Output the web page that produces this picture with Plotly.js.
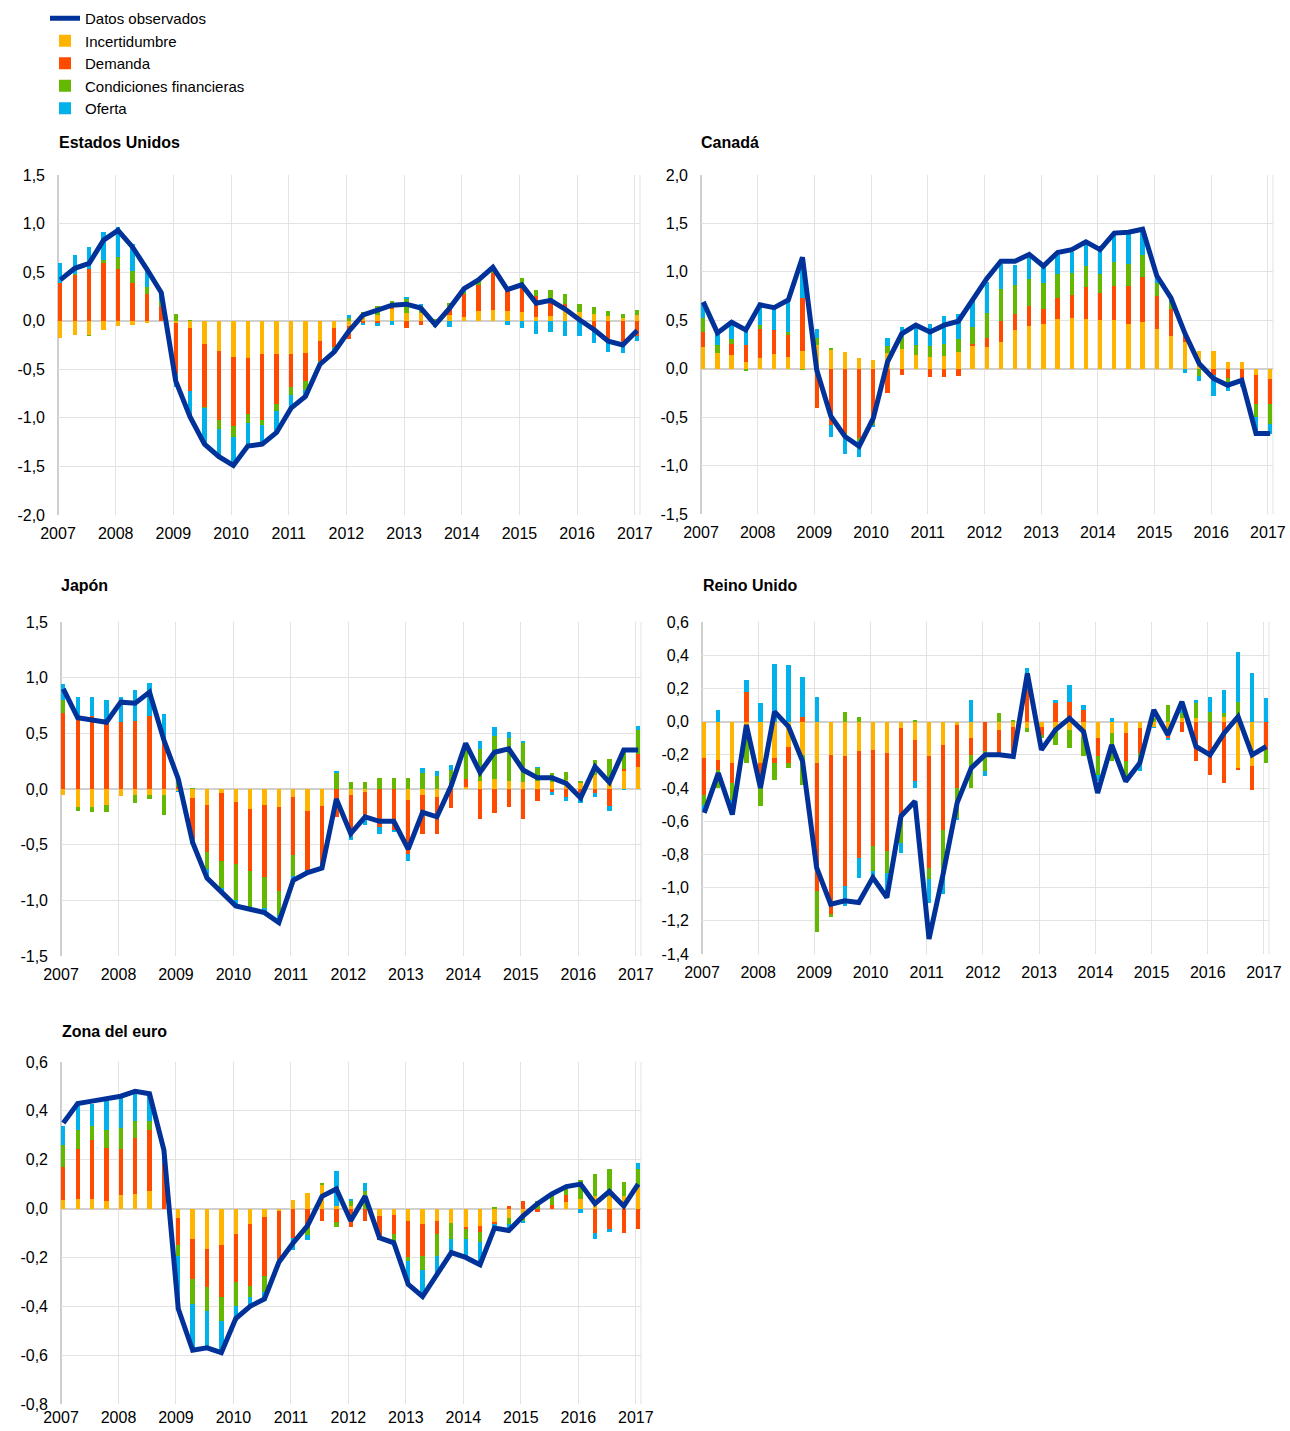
<!DOCTYPE html>
<html><head><meta charset="utf-8">
<script src="https://cdn.plot.ly/plotly-3.0.1.min.js"></script>
<style>html,body{margin:0;padding:0;background:#fff}#chart{width:1290px;height:1431px}</style>
</head><body><div id="chart"></div>
<script>
// ---------- DATA (quarterly, 2007T1 .. 2017T1) ----------
const startYear = 2007;
const yearTicks = [2007,2008,2009,2010,2011,2012,2013,2014,2015,2016,2017];
const yearLabels = ['2007','2008','2009','2010','2011','2012','2013','2014','2015','2016','2017'];
const seriesNames = ['Datos observados','Incertidumbre','Demanda','Condiciones financieras','Oferta'];
const panelTitles = ['Estados Unidos','Canadá','Japón','Reino Unido','Zona del euro'];

// Estados Unidos
const us_inc = [-0.18,-0.15,-0.15,-0.10,-0.05,-0.04,-0.02,0,-0.02,-0.08,-0.24,-0.31,-0.37,-0.38,-0.34,-0.34,-0.34,-0.33,-0.21,-0.08,-0.05,0.04,0.06,0.12,0.08,0.08,0,0.06,0.04,0.10,0.11,0.10,0.09,0.04,0.05,0.10,0.09,0.07,0.05,0.03,0.06];
const us_dem = [0.39,0.47,0.53,0.59,0.53,0.39,0.27,0.15,-0.53,-0.64,-0.65,-0.71,-0.71,-0.58,-0.68,-0.52,-0.34,-0.29,-0.20,-0.19,-0.14,-0.02,-0.02,0.02,-0.08,-0.04,0,0.06,0.23,0.27,0.38,0.22,0.25,0.21,0.17,0.07,0,-0.07,-0.23,-0.26,-0.16];
const us_fin = [0,0.01,-0.01,0.04,0.13,0.12,0.08,0.05,0.07,0.01,-0.01,-0.09,-0.12,-0.09,-0.05,-0.07,-0.08,-0.09,-0.02,-0.01,0.03,0.05,0.09,0.06,0.14,0.07,0.02,0.06,0.03,0.04,0.03,0.02,0.10,0.07,0.10,0.10,0.08,0.07,0.05,0.04,0.05];
const us_ofe = [0.20,0.20,0.23,0.28,0.30,0.28,0.18,0.08,-0.13,-0.27,-0.36,-0.29,-0.29,-0.24,-0.19,-0.21,-0.14,-0.08,-0.02,-0.03,0.03,-0.02,-0.03,-0.04,0.02,0.02,-0.06,-0.06,0.03,0,0,-0.04,-0.07,-0.14,-0.12,-0.16,-0.16,-0.16,-0.09,-0.07,-0.05];
const us_obs = [0.42,0.54,0.59,0.83,0.93,0.76,0.53,0.29,-0.62,-0.99,-1.27,-1.40,-1.49,-1.29,-1.27,-1.15,-0.90,-0.78,-0.45,-0.32,-0.11,0.06,0.11,0.16,0.17,0.13,-0.04,0.13,0.33,0.42,0.55,0.32,0.37,0.18,0.21,0.12,0.01,-0.09,-0.21,-0.25,-0.10];

// Canadá
const ca_inc = [0.22,0.16,0.14,0.07,0.11,0.15,0.12,0.18,0.24,0.19,0.17,0.11,0.09,0.16,0.20,0.14,0.12,0.13,0.17,0.23,0.22,0.28,0.40,0.44,0.46,0.51,0.52,0.51,0.50,0.50,0.46,0.48,0.41,0.34,0.28,0.18,0.18,0.07,0.07,-0.07,-0.11];
const ca_dem = [0.16,0,0.12,0.18,0.30,0.25,0.23,0.55,-0.41,-0.58,-0.66,-0.72,-0.55,-0.25,-0.07,0,-0.09,-0.09,-0.08,0.03,0.10,0.21,0.17,0.21,0.16,0.22,0.24,0.33,0.28,0.35,0.39,0.47,0.34,0.28,0.09,0,-0.07,-0.10,-0.12,-0.29,-0.25];
const ca_fin = [0.14,0.09,0.05,-0.02,0.04,0,0.03,-0.01,0.08,0.02,-0.03,-0.03,-0.03,0.07,0.13,0.11,0.11,0.13,0.14,0.17,0.26,0.33,0.29,0.28,0.27,0.25,0.23,0.22,0.20,0.25,0.23,0.22,0.14,0.07,0,-0.08,0,-0.04,-0.04,-0.14,-0.21];
const ca_ofe = [0.16,0.11,0.15,0.15,0.19,0.22,0.31,0.39,0.09,-0.13,-0.19,-0.16,-0.02,0.09,0.10,0.20,0.23,0.28,0.25,0.27,0.32,0.26,0.21,0.22,0.16,0.19,0.21,0.22,0.24,0.28,0.31,0.26,0.07,0.04,-0.04,-0.05,-0.21,-0.09,-0.03,-0.16,-0.10];
const ca_obs = [0.69,0.37,0.48,0.40,0.66,0.63,0.71,1.15,-0.01,-0.49,-0.70,-0.80,-0.51,0.07,0.36,0.45,0.38,0.45,0.49,0.71,0.93,1.11,1.11,1.18,1.06,1.20,1.23,1.31,1.23,1.40,1.41,1.44,0.96,0.73,0.36,0.05,-0.10,-0.17,-0.12,-0.67,-0.67];

// Japón
const jp_inc = [-0.05,-0.16,-0.16,-0.14,-0.06,-0.05,-0.05,-0.05,-0.02,-0.08,-0.14,-0.04,-0.12,-0.18,-0.14,-0.16,-0.07,-0.20,-0.15,0,-0.05,-0.03,0,0,-0.10,-0.05,-0.07,0,0.02,0.07,0.09,0.07,0.06,0.07,0.06,0.08,0.05,0.13,0.06,0.16,0.20];
const jp_dem = [0.68,0.63,0.66,0.59,0.60,0.61,0.66,0.45,0.02,-0.37,-0.43,-0.61,-0.55,-0.56,-0.65,-0.76,-0.52,-0.53,-0.55,-0.25,-0.37,-0.25,-0.34,-0.37,-0.48,-0.35,-0.33,-0.17,0.07,-0.27,-0.22,-0.16,-0.27,-0.11,-0.03,-0.07,-0.09,-0.04,-0.15,0.02,0.11];
const jp_fin = [0.12,-0.04,-0.05,-0.07,0,-0.08,-0.04,-0.18,0.10,0.01,-0.15,-0.24,-0.33,-0.32,-0.28,-0.21,-0.19,0,0,0.14,0.06,0.06,0.10,0.10,0.10,0.14,0.12,0.17,0.30,0.29,0.39,0.39,0.35,0.12,0.08,0.07,0.02,0.13,0.21,0.16,0.22];
const jp_ofe = [0.14,0.20,0.17,0.21,0.23,0.28,0.29,0.22,-0.01,-0.04,-0.07,-0.04,-0.04,-0.02,-0.04,-0.07,-0.02,-0.02,-0.01,0.02,-0.04,-0.04,-0.06,-0.02,-0.07,0.05,0.04,0.05,0.02,0.07,0.08,0.05,0.02,0.01,-0.02,-0.04,-0.04,-0.03,-0.05,-0.01,0.04];
const jp_obs = [0.90,0.64,0.62,0.60,0.78,0.77,0.87,0.44,0.09,-0.48,-0.80,-0.93,-1.05,-1.08,-1.11,-1.20,-0.82,-0.75,-0.71,-0.09,-0.40,-0.25,-0.29,-0.29,-0.54,-0.21,-0.25,0.03,0.41,0.15,0.33,0.36,0.17,0.10,0.10,0.05,-0.08,0.20,0.06,0.35,0.35];

// Reino Unido
const uk_inc = [-0.22,-0.23,-0.25,-0.02,-0.25,-0.22,-0.15,-0.20,-0.25,-0.20,-0.21,-0.18,-0.17,-0.19,-0.04,-0.11,-0.21,-0.14,-0.02,-0.10,0,-0.05,-0.03,-0.04,-0.03,-0.04,-0.05,-0.09,-0.10,-0.07,-0.07,-0.04,-0.03,-0.07,0.02,0.02,0,0.03,-0.28,-0.27,0];
const uk_dem = [-0.22,-0.06,-0.12,0.18,-0.10,-0.03,-0.10,0.03,-0.77,-0.96,-0.78,-0.64,-0.58,-0.59,-0.52,-0.25,-0.67,-0.51,-0.38,-0.10,-0.18,-0.14,-0.16,0.19,-0.05,0.11,0.12,0.07,-0.11,0,-0.17,-0.15,0,-0.03,-0.06,-0.24,-0.32,-0.37,-0.01,-0.14,-0.17];
const uk_fin = [-0.06,-0.11,-0.10,-0.23,-0.16,-0.10,-0.03,-0.18,-0.25,-0.02,0.06,0.03,-0.15,-0.13,-0.17,0.01,-0.07,-0.29,-0.18,-0.20,-0.12,0.05,0.01,-0.02,-0.02,-0.10,-0.11,-0.12,-0.11,-0.17,-0.12,-0.03,0.02,0.10,0.03,0.09,0.06,0.02,0.12,0,-0.08];
const uk_ofe = [-0.03,0.07,-0.09,0.07,0.11,0.35,0.34,0.24,0.15,0,-0.12,-0.12,-0.04,-0.12,-0.06,-0.04,-0.14,-0.10,-0.01,0.13,-0.03,0,0,0.13,0,0.02,0.10,0.03,-0.04,0.02,0,-0.08,-0.01,-0.01,0.02,0.02,0.09,0.14,0.30,0.29,0.14];
const uk_obs = [-0.55,-0.31,-0.56,-0.02,-0.40,0.06,-0.03,-0.24,-0.88,-1.10,-1.08,-1.09,-0.94,-1.06,-0.57,-0.48,-1.31,-0.92,-0.49,-0.28,-0.20,-0.20,-0.21,0.29,-0.17,-0.05,0.02,-0.06,-0.43,-0.14,-0.36,-0.25,0.07,-0.08,0.12,-0.15,-0.20,-0.07,0.03,-0.20,-0.15];

// Zona del euro
const ea_inc = [0.035,0.04,0.04,0.03,0.055,0.06,0.07,0,-0.04,-0.125,-0.165,-0.15,-0.105,-0.065,-0.035,-0.01,0.035,0.065,0.095,0.01,0.01,0,-0.03,-0.025,-0.05,-0.065,-0.05,-0.06,-0.075,-0.07,-0.055,-0.04,-0.03,0,0,0.025,0.04,0.05,0.05,0.05,0.09];
const ea_dem = [0.135,0.205,0.24,0.22,0.19,0.23,0.25,0.185,-0.11,-0.165,-0.155,-0.21,-0.195,-0.25,-0.24,-0.195,-0.12,-0.08,-0.05,-0.055,-0.075,-0.05,-0.10,-0.08,-0.15,-0.13,-0.055,0,-0.01,-0.025,-0.01,0.01,0.03,-0.015,0.015,0.03,0,-0.10,-0.085,-0.10,-0.085];
const ea_fin = [0.09,0.075,0.06,0.07,0.085,0.07,0.04,0,-0.045,-0.10,-0.10,-0.10,-0.10,-0.045,-0.065,-0.02,0,-0.03,0.01,-0.02,0.02,0.07,0,-0.03,-0.015,-0.055,-0.09,-0.065,-0.04,-0.04,0.005,-0.025,-0.02,0.03,0.035,0.03,0.075,0.09,0.11,0.06,0.07];
const ea_ofe = [0.08,0.105,0.09,0.12,0.125,0.11,0.11,0.05,-0.22,-0.19,-0.155,-0.125,-0.06,-0.04,-0.03,0,-0.05,-0.02,0,0.145,0.01,0.035,0,0,-0.10,-0.11,-0.07,-0.06,-0.07,-0.095,-0.02,-0.02,-0.01,0,0,0,-0.02,-0.025,-0.01,0,0.025];
const ea_obs = [0.35,0.43,0.44,0.45,0.46,0.48,0.47,0.24,-0.41,-0.58,-0.57,-0.59,-0.45,-0.40,-0.37,-0.22,-0.14,-0.07,0.05,0.08,-0.05,0.05,-0.12,-0.14,-0.31,-0.36,-0.27,-0.18,-0.20,-0.23,-0.08,-0.09,-0.03,0.02,0.06,0.09,0.10,0.02,0.07,0.01,0.10];

// y-axis ticks
const ticks_us = [1.5,1.0,0.5,0,-0.5,-1.0,-1.5,-2.0];
const labels_us = ['1,5','1,0','0,5','0,0','-0,5','-1,0','-1,5','-2,0'];
const ticks_ca = [2.0,1.5,1.0,0.5,0,-0.5,-1.0,-1.5];
const labels_ca = ['2,0','1,5','1,0','0,5','0,0','-0,5','-1,0','-1,5'];
const ticks_jp = [1.5,1.0,0.5,0,-0.5,-1.0,-1.5];
const labels_jp = ['1,5','1,0','0,5','0,0','-0,5','-1,0','-1,5'];
const ticks_uk = [0.6,0.4,0.2,0,-0.2,-0.4,-0.6,-0.8,-1.0,-1.2,-1.4];
const labels_uk = ['0,6','0,4','0,2','0,0','-0,2','-0,4','-0,6','-0,8','-1,0','-1,2','-1,4'];
const ticks_ea = [0.6,0.4,0.2,0,-0.2,-0.4,-0.6,-0.8];
const labels_ea = ['0,6','0,4','0,2','0,0','-0,2','-0,4','-0,6','-0,8'];

// ---------- STYLE / LAYOUT ----------
const colors = {obs:'#003299', inc:'#FFB400', dem:'#FF4B00', fin:'#65B800', ofe:'#00B1EA'};
const W = 1290, H = 1431;
const FONT = 'Arial, "Liberation Sans", sans-serif';

const panels = [
  {title:panelTitles[0], inc:us_inc, dem:us_dem, fin:us_fin, ofe:us_ofe, obs:us_obs, px:[58,640], py:[175,515], tv:ticks_us, tt:labels_us, tpx:[57,142], xso:7},
  {title:panelTitles[1], inc:ca_inc, dem:ca_dem, fin:ca_fin, ofe:ca_ofe, obs:ca_obs, px:[701,1273], py:[175,514], tv:ticks_ca, tt:labels_ca, tpx:[699,142], xso:7},
  {title:panelTitles[2], inc:jp_inc, dem:jp_dem, fin:jp_fin, ofe:jp_ofe, obs:jp_obs, px:[61,641], py:[622,956], tv:ticks_jp, tt:labels_jp, tpx:[59,586], xso:7},
  {title:panelTitles[3], inc:uk_inc, dem:uk_dem, fin:uk_fin, ofe:uk_ofe, obs:uk_obs, px:[702,1269], py:[622,954], tv:ticks_uk, tt:labels_uk, tpx:[701,586], xso:7},
  {title:panelTitles[4], inc:ea_inc, dem:ea_dem, fin:ea_fin, ofe:ea_ofe, obs:ea_obs, px:[61,641], py:[1062,1404], tv:ticks_ea, tt:labels_ea, tpx:[60,1031], xso:2},
];

const traces = [];
const layout = {
  width: W, height: H,
  margin: {l:0, r:0, t:0, b:0},
  paper_bgcolor: '#fff', plot_bgcolor: '#fff',
  barmode: 'relative', bargap: 0,
  font: {family: FONT, size: 16, color: '#000'},
  showlegend: true,
  legend: {x: 45/W, y: 1 - 2/H, xanchor: 'left', yanchor: 'top', bgcolor: 'rgba(0,0,0,0)',
           font: {family: FONT, size: 15, color: '#000'}, traceorder: 'normal', itemwidth: 30, tracegroupgap: 0},
  annotations: [],
  shapes: []
};

panels.forEach((p, k) => {
  const n = k === 0 ? '' : String(k + 1);
  const xa = 'x' + n, ya = 'y' + n;
  const xs = p.obs.map((_, i) => startYear + i / 4);
  const show = k === 0;
  const barDefs = [
    {name: seriesNames[1], y: p.inc, c: colors.inc},
    {name: seriesNames[2], y: p.dem, c: colors.dem},
    {name: seriesNames[3], y: p.fin, c: colors.fin},
    {name: seriesNames[4], y: p.ofe, c: colors.ofe},
  ];
  traces.push({type:'scatter', mode:'lines', name: seriesNames[0], x: xs, y: p.obs, xaxis: xa, yaxis: ya,
    line: {color: colors.obs, width: 5}, showlegend: show, legendgroup: 'obs', hoverinfo: 'skip'});
  barDefs.forEach(b => {
    traces.push({type:'bar', name: b.name, x: xs, y: b.y, xaxis: xa, yaxis: ya, width: 0.075,
      marker: {color: b.c, line: {width: 0}}, showlegend: show, legendgroup: b.name, hoverinfo: 'skip'});
  });
  layout['xaxis' + n] = {
    domain: [p.px[0] / W, p.px[1] / W], anchor: ya,
    range: [startYear - 0.04, 2017.05],
    tickmode: 'array', tickvals: yearTicks.map(v => v - 0.04), ticktext: yearLabels,
    showgrid: true, gridcolor: '#e3e3e3', gridwidth: 1,
    zeroline: false, showline: false, ticks: '', ticklabelstandoff: p.xso,
    tickfont: {family: FONT, size: 16, color: '#000'}, fixedrange: true
  };
  layout['yaxis' + n] = {
    domain: [1 - p.py[1] / H, 1 - p.py[0] / H], anchor: xa,
    range: [p.tv[p.tv.length - 1], p.tv[0]],
    tickmode: 'array', tickvals: p.tv, ticktext: p.tt,
    showgrid: true, gridcolor: '#e3e3e3', gridwidth: 1,
    zeroline: true, zerolinecolor: '#d0d0d0', zerolinewidth: 2,
    showline: false, ticks: '', ticklabelstandoff: 12,
    tickfont: {family: FONT, size: 16, color: '#000'}, fixedrange: true
  };
  layout.shapes.push({type:'line', xref: xa + ' domain', yref: ya + ' domain', x0: 0, x1: 0, y0: 0, y1: 1,
    line: {color: '#cfcfcf', width: 2}, layer: 'below'});
  layout.shapes.push({type:'line', xref: xa + ' domain', yref: ya + ' domain', x0: 1, x1: 1, y0: 0, y1: 1,
    line: {color: '#e3e3e3', width: 1}, layer: 'below'});
  layout.annotations.push({text: '<b>' + p.title + '</b>', xref: 'paper', yref: 'paper',
    x: p.tpx[0] / W, y: 1 - p.tpx[1] / H, xanchor: 'left', yanchor: 'middle', showarrow: false,
    font: {family: FONT, size: 16, color: '#000'}});
});

Plotly.newPlot('chart', traces, layout, {displayModeBar: false, staticPlot: true});
</script>
</body></html>
